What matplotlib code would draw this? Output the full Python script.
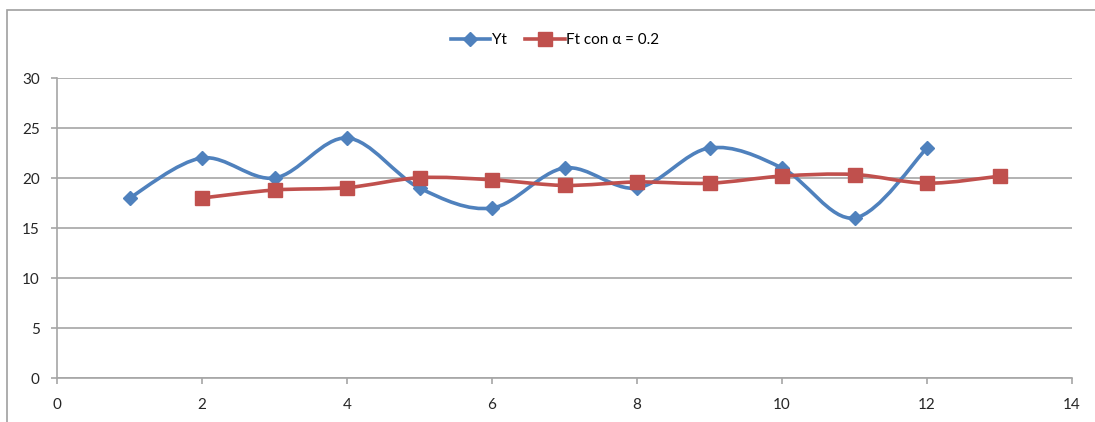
import matplotlib.pyplot as plt
import numpy as np
from matplotlib.path import Path
from matplotlib.patches import PathPatch, Rectangle
from matplotlib.lines import Line2D

plt.rcParams['font.family'] = ['Lato', 'DejaVu Sans']

# data
t_yt = [1, 2, 3, 4, 5, 6, 7, 8, 9, 10, 11, 12]
yt = [18, 22, 20, 24, 19, 17, 21, 19, 23, 21, 16, 23]
t_ft = [2, 3, 4, 5, 6, 7, 8, 9, 10, 11, 12, 13]
ft = [18, 18.8, 19.04, 20.03, 19.82, 19.26, 19.6, 19.48, 20.19, 20.35, 19.48, 20.18]
x_ticks = [0, 2, 4, 6, 8, 10, 12, 14]
y_ticks = [0, 5, 10, 15, 20, 25, 30]

BLUE = '#4F81BD'
RED = '#C0504D'
GRID = '#A6A6A6'


def smooth_path(xs, ys):
    # Excel-style smoothed line: cubic bezier through the points
    pts = np.column_stack([xs, ys]).astype(float)
    verts = [pts[0]]
    codes = [Path.MOVETO]
    n = len(pts)
    for i in range(n - 1):
        p0 = pts[i - 1] if i > 0 else pts[i]
        p1 = pts[i]
        p2 = pts[i + 1]
        p3 = pts[i + 2] if i + 2 < n else pts[i + 1]
        c1 = p1 + (p2 - p0) / 6.0
        c2 = p2 - (p3 - p1) / 6.0
        verts += [c1, c2, p2]
        codes += [Path.CURVE4] * 3
    return Path(verts, codes)


fig = plt.figure(figsize=(10.95, 4.22), dpi=100)
ax = fig.add_axes([57 / 1095, 1 - 378 / 422, (1072 - 57) / 1095, 300 / 422])

for xs, ys, col in [(t_yt, yt, BLUE), (t_ft, ft, RED)]:
    ax.add_patch(PathPatch(smooth_path(xs, ys), facecolor='none',
                           edgecolor=col, lw=2.6, zorder=3, capstyle='round'))

ax.plot(t_yt, yt, ls='none', marker='D', ms=7, color=BLUE, zorder=4)
ax.plot(t_ft, ft, ls='none', marker='s', ms=9.5, color=RED, zorder=4)

ax.set_xlim(0, 14)
ax.set_ylim(0, 30)
ax.set_xticks(x_ticks)
ax.set_yticks(y_ticks)
ax.yaxis.grid(True, color=GRID, lw=1.2)
ax.set_axisbelow(True)
for s in ['top', 'right']:
    ax.spines[s].set_visible(False)
for s in ['left', 'bottom']:
    ax.spines[s].set_color(GRID)
    ax.spines[s].set_linewidth(1.2)
ax.tick_params(colors=GRID, labelcolor='#262626', labelsize=11, length=4.5, width=1.2)
ax.tick_params(axis='x', pad=10)
ax.tick_params(axis='y', pad=8)

handles = [
    Line2D([], [], color=BLUE, lw=2.6, marker='D', ms=7),
    Line2D([], [], color=RED, lw=2.6, marker='s', ms=9.5),
]
fig.legend(handles, ['Yt', 'Ft con α = 0.2'], loc='center',
           bbox_to_anchor=(555 / 1095, 1 - 40 / 422), ncol=2, frameon=False,
           fontsize=11, handlelength=2.6, handletextpad=0.1, columnspacing=1.2)

# outer chart border
fig.add_artist(Rectangle((7 / 1095, -0.1), 1.2, 1 - 10 / 422 + 0.1,
                         transform=fig.transFigure, fill=False,
                         edgecolor='#A0A0A0', lw=1.2))

fig.savefig('out.png', dpi=100)
